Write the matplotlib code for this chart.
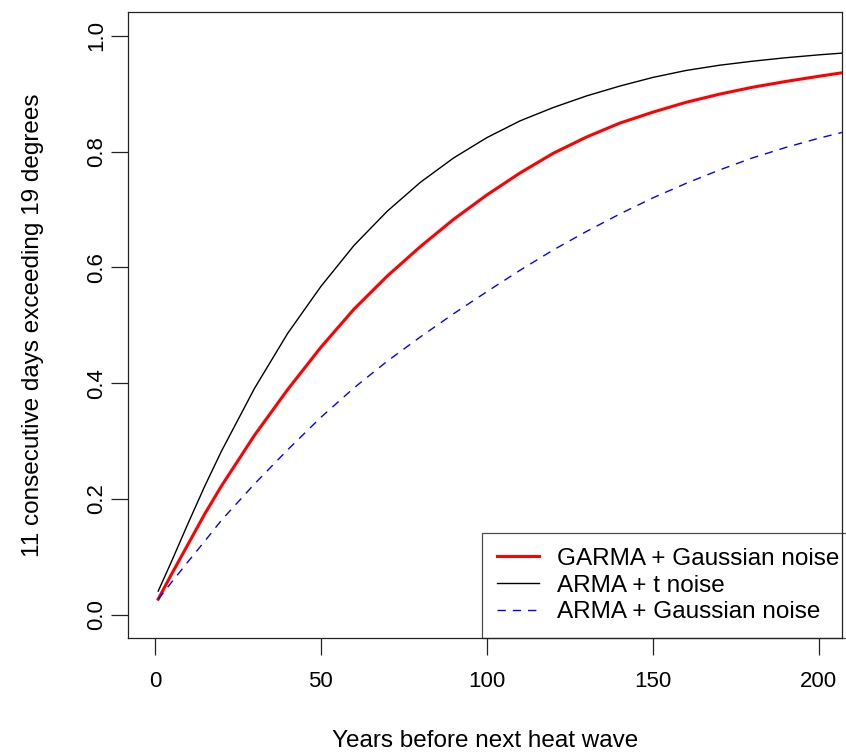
import matplotlib
matplotlib.use("Agg")
import matplotlib.pyplot as plt

# years before next heat wave
years = [1, 5, 10, 15, 20, 30, 40, 50, 60, 70, 80, 90, 100,
         110, 120, 130, 140, 150, 160, 170, 180, 190, 200, 207]

# probability curves, values
garma_gauss = [0.027, 0.070, 0.122, 0.174, 0.222, 0.310, 0.389, 0.462, 0.528,
               0.585, 0.636, 0.683, 0.725, 0.763, 0.797, 0.825, 0.849, 0.868,
               0.885, 0.899, 0.911, 0.921, 0.930, 0.936]
arma_t = [0.041, 0.092, 0.158, 0.222, 0.282, 0.391, 0.486, 0.567, 0.638,
          0.697, 0.747, 0.789, 0.824, 0.853, 0.876, 0.896, 0.913, 0.928,
          0.940, 0.949, 0.956, 0.962, 0.967, 0.970]
arma_gauss = [0.027, 0.056, 0.092, 0.127, 0.163, 0.226, 0.285, 0.341, 0.392,
              0.438, 0.480, 0.520, 0.558, 0.595, 0.630, 0.662, 0.692, 0.720,
              0.745, 0.768, 0.789, 0.807, 0.823, 0.833]

x_ticks = [0, 50, 100, 150, 200]
y_ticks = [0.0, 0.2, 0.4, 0.6, 0.8, 1.0]

plt.rcParams['font.family'] = ['Liberation Sans', 'DejaVu Sans']

fig = plt.figure(figsize=(8.46, 7.52), dpi=100)
ax = fig.add_axes([128 / 846, 114 / 752, 714 / 846, 626 / 752])

ax.plot(years, garma_gauss, color='red', lw=2.2, label='GARMA + Gaussian noise')
ax.plot(years, arma_t, color='black', lw=1.0, label='ARMA + t noise')
ax.plot(years, arma_gauss, color='blue', lw=1.0, dashes=(6, 5),
        label='ARMA + Gaussian noise')

ax.set_xlim(-8.1, 207)
ax.set_ylim(-0.040, 1.041)
ax.set_xticks(x_ticks)
ax.set_xticklabels([str(t) for t in x_ticks])
ax.set_yticks(y_ticks)
ax.set_yticklabels([f"{t:.1f}" for t in y_ticks], rotation=90, va='center')

ax.tick_params(axis='both', length=12, width=0.9, labelsize=16, color='#222222')
ax.tick_params(axis='x', pad=12)
ax.tick_params(axis='y', pad=3)
for s in ax.spines.values():
    s.set_linewidth(0.9)
    s.set_color('#222222')

ax.set_xlabel('Years before next heat wave', fontsize=17.5, labelpad=27)
ax.set_ylabel('11 consecutive days exceeding 19 degrees', fontsize=17.5, labelpad=30)

# legend sits bottom right, text runs over the right edge like the original
leg = ax.legend(loc='lower left', bbox_to_anchor=(354 / 714, 0.0), borderaxespad=0,
                fontsize=17.5, frameon=True, fancybox=False, handlelength=1.75,
                handletextpad=0.75, labelspacing=0.2, borderpad=0.6)
leg.get_frame().set_edgecolor('#222222')
leg.get_frame().set_linewidth(0.9)
leg.get_frame().set_facecolor('none')

fig.savefig('out.png', dpi=100)
